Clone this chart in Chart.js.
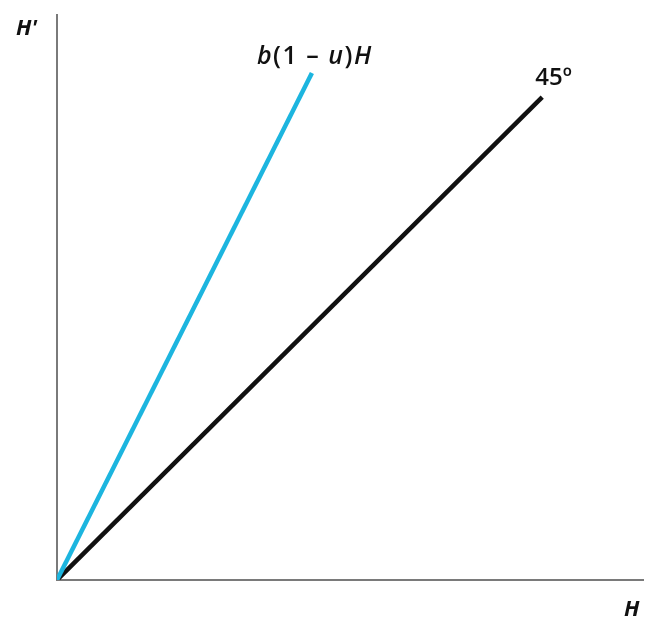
<!DOCTYPE html>
<html>
<head>
<meta charset="utf-8">
<script src="https://cdn.jsdelivr.net/npm/chart.js@4/dist/chart.umd.min.js"></script>
<style>
  html, body { margin: 0; padding: 0; background: #fff; }
  #wrap { width: 658px; height: 635px; }
</style>
</head>
<body>
<div id="wrap"><canvas id="myChart" width="658" height="635"></canvas></div>
<script>
// H (today) on x, H' (next period) on y
const hStart = [0, 0]
const fortyFiveEnd = [8.28, 8.24]
const growthEnd = [4.35, 8.65]
const xMax = 10, yMax = 9.64

const fam = '"Open Sans", "Noto Sans", sans-serif'

function drawParts(ctx, parts, x, y, size) {
  // parts: [text, italic]
  let cx = x
  parts.forEach(p => {
    ctx.font = (p[1] ? 'italic ' : '') + '600 ' + size + 'px ' + fam
    ctx.fillText(p[0], cx, y)
    cx += ctx.measureText(p[0]).width
  })
}

const labelPlugin = {
  id: 'labels',
  afterDraw(chart) {
    const ctx = chart.ctx, xs = chart.scales.x, ys = chart.scales.y
    ctx.save()
    ctx.fillStyle = '#111'
    ctx.textBaseline = 'alphabetic'
    ctx.textAlign = 'left'
    // axis names
    ctx.font = 'italic 700 22px ' + fam
    ctx.fillText("H'", 16, 35)
    ctx.fillText('H', 624, 616)
    // line labels
    const bx = xs.getPixelForValue(growthEnd[0]), by = ys.getPixelForValue(growthEnd[1])
    ctx.letterSpacing = '1.5px'
    drawParts(ctx, [['b', true], ['(1 \u2013 ', false], ['u', true], [')', false], ['H', true]], bx - 55, by - 9, 25)
    ctx.letterSpacing = '0px'
    const kx = xs.getPixelForValue(fortyFiveEnd[0]), ky = ys.getPixelForValue(fortyFiveEnd[1])
    ctx.font = '600 24px ' + fam
    ctx.fillText('45\u00ba', kx - 7, ky - 12)
    ctx.restore()
  }
}

const ctx = document.getElementById('myChart').getContext('2d')
const chart = new Chart(ctx, {
  type: 'scatter',
  data: {
    datasets: [
      {
        data: [{ x: hStart[0], y: hStart[1] }, { x: growthEnd[0], y: growthEnd[1] }],
        showLine: true,
        borderColor: '#1cb5df',
        borderWidth: 4.5,
        pointRadius: 0
      },
      {
        data: [{ x: hStart[0], y: hStart[1] }, { x: fortyFiveEnd[0], y: fortyFiveEnd[1] }],
        showLine: true,
        borderColor: '#111111',
        borderWidth: 4.5,
        pointRadius: 0
      }
    ]
  },
  options: {
    responsive: false,
    animation: false,
    layout: { padding: { left: 57, top: 15, right: 15, bottom: 55 } },
    plugins: { legend: { display: false }, tooltip: { enabled: false } },
    scales: {
      x: {
        type: 'linear', min: 0, max: xMax,
        grid: { display: false, drawTicks: false },
        ticks: { display: false },
        border: { display: true, color: '#7a7a7a', width: 2 }
      },
      y: {
        type: 'linear', min: 0, max: yMax,
        grid: { display: false, drawTicks: false },
        ticks: { display: false },
        border: { display: true, color: '#7a7a7a', width: 2 }
      }
    }
  },
  plugins: [labelPlugin]
})
</script>
</body>
</html>
